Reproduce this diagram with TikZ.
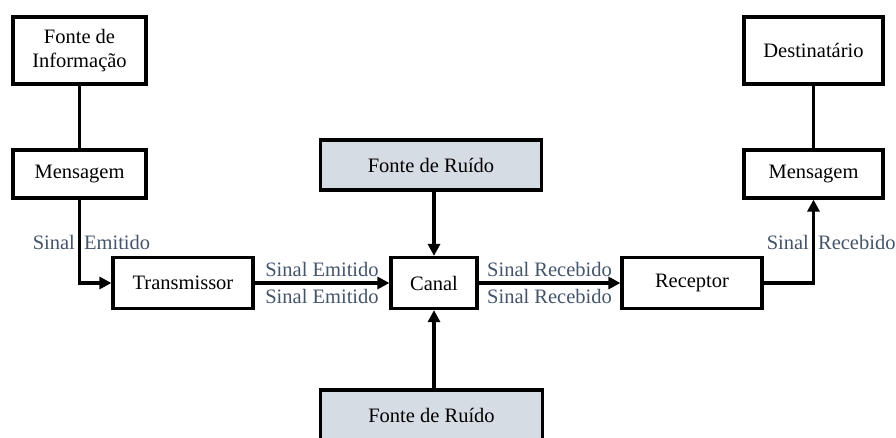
\documentclass[tikz,border=0pt]{standalone}
\usepackage{fontspec}
\setmainfont{Liberation Serif}
\usetikzlibrary{arrows.meta}
\definecolor{ruido}{HTML}{D6DCE4}
\definecolor{sinal}{HTML}{44546A}
\begin{document}
\begin{tikzpicture}[x=1pt,y=-1pt,every text node part/.style={align=center},
  bloco/.style={draw, line width=3.2pt, font=\fontsize{20.5}{24}\selectfont, inner sep=0pt},
  liga/.style={line width=3.2pt},
  seta/.style={line width=3.2pt, -{Triangle[length=12pt,width=12pt]}},
  rotulo/.style={text=sinal, font=\fontsize{20.5}{24}\selectfont, inner xsep=3pt, inner ysep=5pt}]
\useasboundingbox (0,0) rectangle (896,437);
\clip (0,0) rectangle (896,437);

	% lado emissor
	\node[bloco, minimum width=133pt, minimum height=67pt] (fonte) at (79.5,50.5) {Fonte de\\Informação};
	\node[bloco, minimum width=133pt, minimum height=48pt] (msgA) at (79.5,174) {Mensagem};
	\node[bloco, minimum width=140pt, minimum height=51pt] (trans) at (183,283) {Transmissor};

	% canal e ruido
	\node[bloco, minimum width=86pt, minimum height=51pt] (canal) at (434,283) {Canal};
	\node[bloco, fill=ruido, minimum width=221pt, minimum height=50pt] (ruidoA) at (431,165) {Fonte de Ruído};
	\node[bloco, fill=ruido, minimum width=222pt, minimum height=50pt] (ruidoB) at (431.5,415) {Fonte de Ruído};

	% lado receptor
	\node[bloco, minimum width=140pt, minimum height=51pt] (recep) at (692,283) {Receptor};
	\node[bloco, minimum width=139pt, minimum height=48pt] (msgB) at (813.5,174) {Mensagem};
	\node[bloco, minimum width=139pt, minimum height=67pt] (dest) at (813.5,50.5) {Destinatário};

	\draw[liga] (fonte) -- (msgA);
	\draw[liga] (dest) -- (msgB);

	\draw[seta] (msgA.south) |- node[pos=0.26, rotulo, anchor=east] {Sinal} node[pos=0.26, rotulo, anchor=west] {Emitido} (trans.west);
	\draw[seta] (trans) -- node[rotulo, above] {Sinal Emitido} node[rotulo, below] {Sinal Emitido} (canal);
	\draw[seta] (canal) -- node[rotulo, above] {Sinal Recebido} node[rotulo, below] {Sinal Recebido} (recep);
	\draw[seta] (recep.east) -| node[pos=0.74, rotulo, anchor=east] {Sinal} node[pos=0.74, rotulo, anchor=west] {Recebido} (msgB.south);

	\draw[seta] (ruidoA.south -| canal) -- (canal);
	\draw[seta] (ruidoB.north -| canal) -- (canal);

\end{tikzpicture}
\end{document}
